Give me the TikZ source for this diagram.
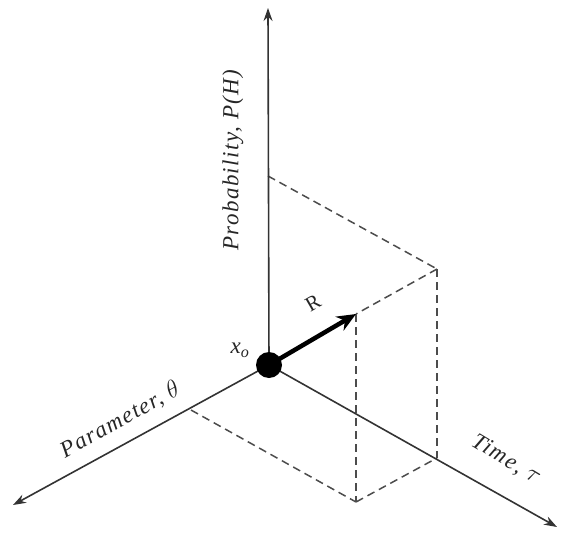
\documentclass[tikz,border=0pt]{standalone}
\usepackage{fontspec}
\setmainfont{Liberation Serif}
\usetikzlibrary{arrows.meta}
\begin{document}
\begin{tikzpicture}[x=1pt,y=-1pt,
  axis/.style={line width=1.6pt, draw=black!80, -{Stealth[length=13pt,width=9pt]}},
  guide/.style={dash pattern=on 8pt off 5pt, line width=1.5pt, draw=black!70},
  vec/.style={line width=4.5pt, draw=black, -{Stealth[length=19pt,width=16pt]}},
  lab/.style={font=\itshape\fontsize{23}{23}\selectfont\addfontfeature{LetterSpace=6}, inner sep=0pt, text=black!85},
  small/.style={inner sep=0pt, text=black!85}]
\useasboundingbox (0,0) rectangle (563,533);
% points
\coordinate (O) at (269,365);
\coordinate (Pup) at (268,8);
\coordinate (Tend) at (557,527);
\coordinate (Thend) at (13,505);
\coordinate (PH) at (268,176);
\coordinate (TH) at (437,269);
\coordinate (T) at (437,458);
\coordinate (B) at (356,502);
\coordinate (RH) at (356,314);
\coordinate (Pth) at (191,410);
% dashed box
\draw[guide] (PH) -- (TH);
\draw[guide] (TH) -- (T);
\draw[guide] (TH) -- (RH);
\draw[guide] (RH) -- (B);
\draw[guide] (Pth) -- (B);
\draw[guide] (B) -- (T);
% axes
\draw[axis] (O) -- (Pup);
\draw[axis] (O) -- (Tend);
\draw[axis] (O) -- (Thend);
% vector R
\draw[vec] (O) -- (RH);
\node[circle, fill=black, minimum size=26pt, inner sep=0pt] (dot) at (O) {};
% labels
\node[lab, rotate=90] (lp) at (233,160) {Probability, P(H)};
\node[lab, rotate=29] (lth) at (120,420) {Parameter, \(\theta\)};
\node[lab, rotate=-31] (lt) at (506,460) {Time, \(\tau\)};
\node[small, font=\itshape\fontsize{23}{23}\selectfont] (lx) at (240,350) {x\textsubscript{o}};
\node[small, font=\fontsize{21}{21}\selectfont, rotate=30] (lR) at (313,303) {R};
\end{tikzpicture}
\end{document}
